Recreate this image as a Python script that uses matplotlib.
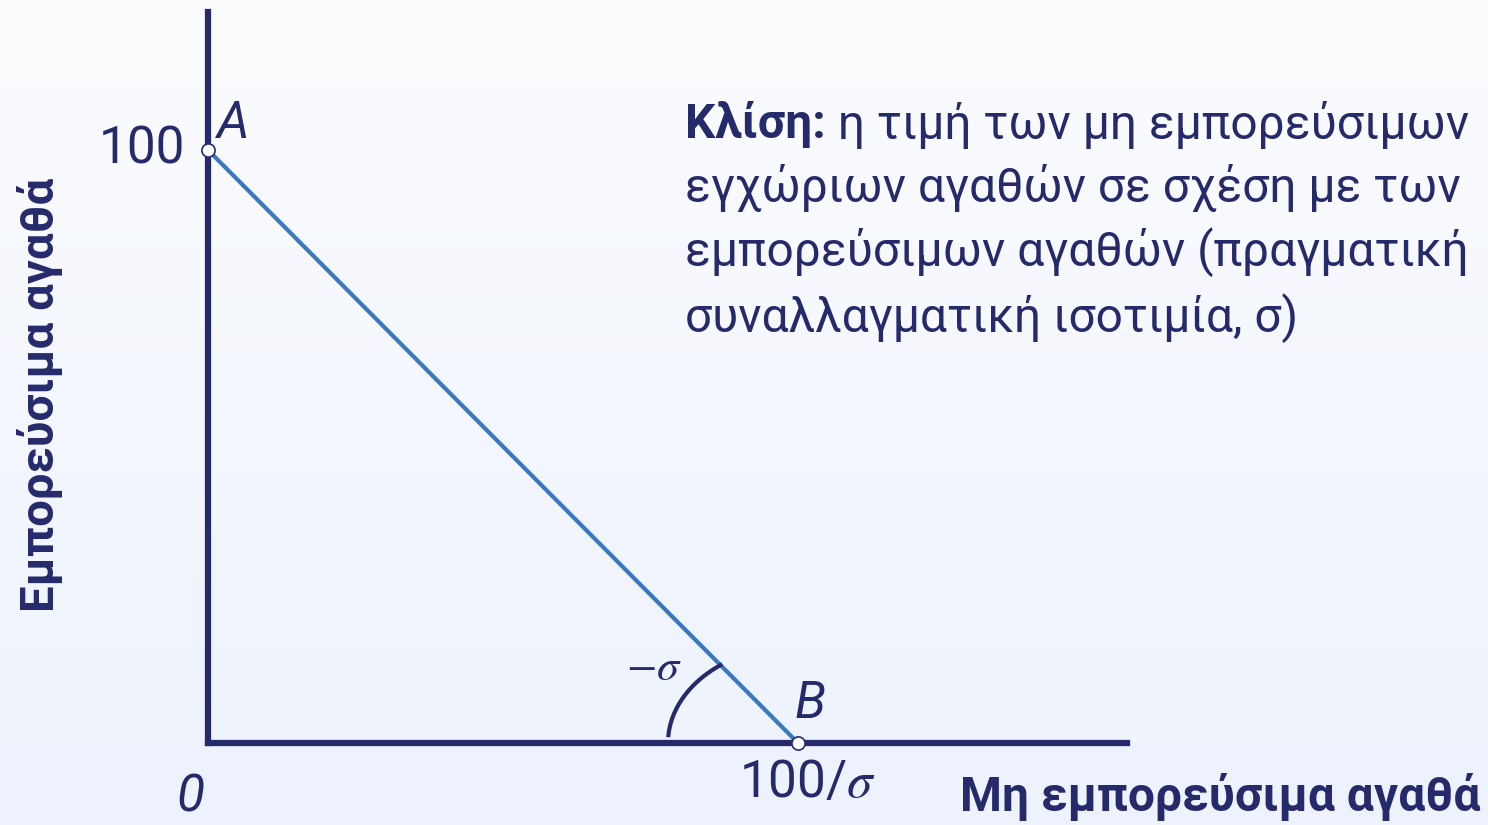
import numpy as np
import matplotlib
matplotlib.use("Agg")
import matplotlib.pyplot as plt
from matplotlib.colors import LinearSegmentedColormap

# ---- data ----
y_intercept = 100.0          # point A (tradables axis)
sigma = 1.0                  # real exchange rate (slope = -sigma)
x_intercept = y_intercept / sigma   # point B
point_labels = ["A", "B"]
ylabel_text = "Εμπορεύσιμα αγαθά"
xlabel_text = "Μη εμπορεύσιμα αγαθά"
slope_bold = "Κλίση:"
slope_lines = [" η τιμή των μη εμπορεύσιμων",
               "εγχώριων αγαθών σε σχέση με των",
               "εμπορεύσιμων αγαθών (πραγματική",
               "συναλλαγματική ισοτιμία, σ)"]

NAVY = "#252a6b"
BLUE = "#3a78c0"
FONT = ["Roboto", "DejaVu Sans"]
plt.rcParams["font.family"] = FONT
plt.rcParams["mathtext.fontset"] = "stix"

W, H = 1488, 825
fig = plt.figure(figsize=(W / 100, H / 100), dpi=100)

# background gradient
bg = fig.add_axes([0, 0, 1, 1], zorder=-10)
grad = np.linspace(0, 1, 256).reshape(-1, 1)
cm = LinearSegmentedColormap.from_list("bg", ["#fbfcfe", "#edf2fc"])
bg.imshow(grad, aspect="auto", cmap=cm, extent=[0, 1, 0, 1], origin="upper")
bg.axis("off")

# main axes: origin at px (208, 743)
px_x0, px_y0 = 208, 743
sx, sy = 5.9, 5.93     # px per data unit
left, right, top = 208, 1127, 12
ax = fig.add_axes([left / W, (H - px_y0) / H, (right - left) / W, (px_y0 - top) / H])
ax.set_xlim(0, (right - left) / sx)
ax.set_ylim(0, (px_y0 - top) / sy)
ax.patch.set_alpha(0)
for s in ["top", "right"]:
    ax.spines[s].set_visible(False)
for s in ["left", "bottom"]:
    ax.spines[s].set_color(NAVY)
    ax.spines[s].set_linewidth(4.5)
ax.set_xticks([])
ax.set_yticks([])

# budget line
ax.plot([0, x_intercept], [y_intercept, 0], color=BLUE, lw=3, solid_capstyle="butt",
        zorder=3, clip_on=False)
ax.scatter([0, x_intercept], [y_intercept, 0], s=90, facecolor="white",
           edgecolor=NAVY, linewidth=1.2, zorder=5, clip_on=False)

# angle arc (ellipse centred at B)
a_px, b_px = 130, 97
t_end = np.arctan2(79 / b_px, 76 / a_px)
t = np.linspace(np.pi - t_end, np.pi - 0.06, 50)
ax.plot(x_intercept + a_px * np.cos(t) / sx, b_px * np.sin(t) / sy,
        color=NAVY, lw=3, zorder=4, solid_capstyle="butt")

def d(px, py):
    return ((px - px_x0) / sx, (px_y0 - py) / sy)

fs_big = 37
ax.text(*d(185, 150), "100", ha="right", va="center", fontsize=fs_big, color=NAVY)
ax.text(*d(216, 124), point_labels[0], ha="left", va="center", fontsize=fs_big,
        style="italic", color=NAVY)
ax.text(*d(795, 704), point_labels[1], ha="left", va="center", fontsize=fs_big,
        style="italic", color=NAVY)
ax.text(*d(190, 797), "0", ha="center", va="center", fontsize=fs_big,
        style="italic", color=NAVY)
ax.text(*d(808, 783), "100/$\\sigma$", ha="center", va="center", fontsize=fs_big,
        color=NAVY)
ax.text(*d(654, 668), "$-\\sigma$", ha="center", va="center", fontsize=32, color=NAVY)

# axis titles
fig.text(40 / W, 1 - 395 / H, ylabel_text, rotation=90, ha="center", va="center",
         fontsize=34, fontweight="bold", color=NAVY)
fig.text(1480 / W, 1 - 797 / H, xlabel_text, ha="right", va="center",
         fontsize=34.5, fontweight="bold", color=NAVY)

# slope annotation
fs_txt = 34.5
line_y = [125, 188, 252, 318]
tb = fig.text(685 / W, 1 - line_y[0] / H, slope_bold, ha="left", va="center",
              fontsize=fs_txt, fontweight="bold", color=NAVY)
fig.canvas.draw()
bb = tb.get_window_extent()
fig.text(bb.x1 / W, 1 - line_y[0] / H, slope_lines[0], ha="left", va="center",
         fontsize=fs_txt, color=NAVY)
for yy, s in zip(line_y[1:], slope_lines[1:]):
    fig.text(685 / W, 1 - yy / H, s, ha="left", va="center", fontsize=fs_txt,
             color=NAVY)

fig.savefig("out.png", dpi=100)
